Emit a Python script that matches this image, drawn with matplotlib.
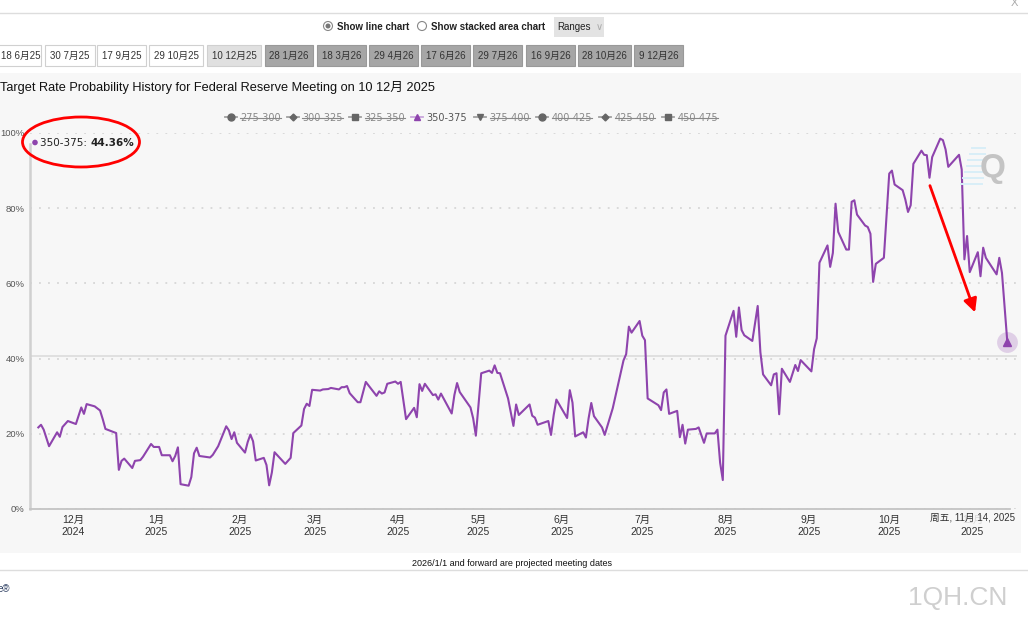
import matplotlib
matplotlib.use("Agg")
import matplotlib.pyplot as plt
import matplotlib.dates as mdates
from matplotlib.patches import Rectangle, Ellipse, FancyArrowPatch, Circle
import pandas as pd

plt.rcParams['font.family'] = ['Liberation Sans', 'Noto Sans CJK SC', 'DejaVu Sans']

# probability of the 350-375 bp range
dates = [
    "2024-11-18", "2024-11-19", "2024-11-20", "2024-11-22", "2024-11-25", "2024-11-26", "2024-11-27", "2024-11-29",
    "2024-12-02", "2024-12-04", "2024-12-05", "2024-12-06", "2024-12-09", "2024-12-11", "2024-12-12", "2024-12-13",
    "2024-12-17", "2024-12-18", "2024-12-19", "2024-12-20", "2024-12-23", "2024-12-24", "2024-12-26", "2024-12-27",
    "2024-12-30", "2024-12-31",
    "2025-01-02", "2025-01-03", "2025-01-06", "2025-01-07", "2025-01-08", "2025-01-09", "2025-01-10", "2025-01-13",
    "2025-01-14", "2025-01-15", "2025-01-16", "2025-01-17", "2025-01-21", "2025-01-22", "2025-01-24", "2025-01-27",
    "2025-01-28", "2025-01-29", "2025-01-30", "2025-01-31",
    "2025-02-03", "2025-02-04", "2025-02-05", "2025-02-06", "2025-02-07", "2025-02-10", "2025-02-11", "2025-02-12",
    "2025-02-13", "2025-02-14", "2025-02-18", "2025-02-19", "2025-02-20", "2025-02-21", "2025-02-24", "2025-02-25",
    "2025-02-26", "2025-02-27", "2025-02-28",
    "2025-03-03", "2025-03-04", "2025-03-06", "2025-03-07", "2025-03-10", "2025-03-11", "2025-03-12", "2025-03-13",
    "2025-03-14", "2025-03-17", "2025-03-18", "2025-03-19", "2025-03-20", "2025-03-24", "2025-03-25", "2025-03-26",
    "2025-03-27", "2025-03-28", "2025-03-31",
    "2025-04-01", "2025-04-02", "2025-04-04", "2025-04-07", "2025-04-08", "2025-04-09", "2025-04-10", "2025-04-11",
    "2025-04-14", "2025-04-15", "2025-04-16", "2025-04-17", "2025-04-21", "2025-04-22", "2025-04-23", "2025-04-24",
    "2025-04-28", "2025-04-29", "2025-04-30",
    "2025-05-02", "2025-05-05", "2025-05-06", "2025-05-07", "2025-05-08", "2025-05-09", "2025-05-12", "2025-05-14",
    "2025-05-15", "2025-05-16", "2025-05-20", "2025-05-21", "2025-05-22", "2025-05-23", "2025-05-27", "2025-05-28",
    "2025-05-29", "2025-05-30",
    "2025-06-03", "2025-06-04", "2025-06-05", "2025-06-06", "2025-06-09", "2025-06-10", "2025-06-11", "2025-06-12",
    "2025-06-13", "2025-06-16", "2025-06-17", "2025-06-20", "2025-06-24", "2025-06-25", "2025-06-26", "2025-06-27",
    "2025-06-30",
    "2025-07-01", "2025-07-02", "2025-07-03", "2025-07-07", "2025-07-08", "2025-07-09", "2025-07-10", "2025-07-11",
    "2025-07-14", "2025-07-15", "2025-07-16", "2025-07-17", "2025-07-18", "2025-07-21", "2025-07-22", "2025-07-24",
    "2025-07-25", "2025-07-28", "2025-07-29", "2025-07-30", "2025-07-31",
    "2025-08-01", "2025-08-04", "2025-08-05", "2025-08-06", "2025-08-07", "2025-08-08", "2025-08-11", "2025-08-13",
    "2025-08-14", "2025-08-15", "2025-08-18", "2025-08-19", "2025-08-20", "2025-08-21", "2025-08-22", "2025-08-25",
    "2025-08-27", "2025-08-28", "2025-08-29",
    "2025-09-02", "2025-09-03", "2025-09-04", "2025-09-05", "2025-09-08", "2025-09-09", "2025-09-10", "2025-09-11",
    "2025-09-12", "2025-09-15", "2025-09-16", "2025-09-17", "2025-09-18", "2025-09-19", "2025-09-22", "2025-09-23",
    "2025-09-24", "2025-09-25", "2025-09-26", "2025-09-29",
    "2025-10-01", "2025-10-02", "2025-10-03", "2025-10-06", "2025-10-07", "2025-10-08", "2025-10-09", "2025-10-10",
    "2025-10-13", "2025-10-14", "2025-10-15", "2025-10-16", "2025-10-17", "2025-10-20", "2025-10-21", "2025-10-22",
    "2025-10-23", "2025-10-27", "2025-10-28", "2025-10-29", "2025-10-30", "2025-10-31",
    "2025-11-03", "2025-11-04", "2025-11-05", "2025-11-06", "2025-11-10", "2025-11-11", "2025-11-12", "2025-11-14",
]
probs = [
    21.7, 22.4, 21.1, 16.7, 20.4, 19.2, 21.8, 23.4,
    22.6, 27.0, 25.3, 27.9, 27.3, 26.2, 23.9, 21.3,
    20.2, 10.4, 12.8, 13.4, 10.9, 12.8, 13.0, 13.9,
    17.3, 16.5,
    16.5, 14.3, 14.3, 12.7, 14.1, 16.4, 6.6, 6.2,
    8.5, 14.8, 16.3, 14.1, 13.7, 14.4, 16.7, 22.0,
    20.9, 18.6, 20.4, 17.6,
    15.0, 17.8, 19.8, 18.0, 12.9, 13.6, 11.7, 6.3,
    9.7, 15.1, 12.0, 12.8, 13.6, 20.2, 22.2, 26.6,
    28.0, 27.4, 31.7,
    31.5, 31.8, 31.9, 32.2, 31.8, 32.4, 32.4, 32.7,
    30.8, 28.4, 28.4, 31.1, 33.8, 30.1, 31.3, 30.7,
    31.0, 33.3, 33.9,
    33.3, 33.8, 23.9, 26.9, 24.4, 33.2, 31.4, 33.3,
    30.3, 30.5, 29.1, 30.7, 25.4, 30.3, 33.5, 31.1,
    27.0, 24.1, 19.5,
    36.1, 36.8, 36.2, 38.2, 36.2, 36.1, 29.4, 22.1,
    27.8, 25.0, 27.8, 24.8, 24.3, 22.4, 23.4, 19.7,
    25.0, 29.1,
    24.2, 31.6, 28.3, 19.3, 20.4, 19.0, 24.1, 28.2,
    24.7, 21.7, 19.7, 26.8, 39.5, 41.2, 48.5, 46.9,
    50.0,
    46.1, 44.9, 29.4, 27.6, 26.3, 31.0, 31.8, 25.3,
    26.1, 19.1, 22.4, 17.4, 21.1, 21.3, 21.7, 17.6,
    20.1, 20.1, 21.1, 12.3, 7.7,
    46.1, 52.7, 45.8, 53.6, 47.6, 46.2, 44.7, 54.0,
    41.7, 35.8, 32.9, 35.8, 36.1, 25.2, 37.3, 33.8,
    38.3, 36.7, 39.6,
    36.6, 42.5, 45.4, 65.5, 70.1, 64.4, 68.1, 81.2,
    73.7, 69.0, 69.0, 81.7, 82.1, 78.3, 75.4, 75.0,
    73.2, 60.4, 65.2, 66.8,
    89.2, 90.0, 86.3, 84.8, 82.3, 79.0, 80.8, 91.8,
    95.3, 94.2, 94.1, 88.1, 93.6, 98.5, 98.1, 95.6,
    91.0, 94.2, 90.3, 66.4, 72.6, 63.0,
    68.3, 61.9, 69.5, 66.8, 62.4, 66.8, 62.8, 44.36,
]

month_ticks = ["2024-12-01", "2025-01-01", "2025-02-01", "2025-03-01", "2025-04-01", "2025-05-01",
               "2025-06-01", "2025-07-01", "2025-08-01", "2025-09-01", "2025-10-01", "2025-11-01"]
month_labels = ["12月\n2024", "1月\n2025", "2月\n2025", "3月\n2025", "4月\n2025", "5月\n2025",
                "6月\n2025", "7月\n2025", "8月\n2025", "9月\n2025", "10月\n2025", "11月\n2025"]
y_ticks = [0, 20, 40, 60, 80, 100]
legend_labels = ["275-300", "300-325", "325-350", "350-375", "375-400", "400-425", "425-450", "450-475"]
legend_markers = ["o", "D", "s", "^", "v", "o", "D", "s"]
tabs = ["18 6月25", "30 7月25", "17 9月25", "29 10月25", "10 12月25", "28 1月26", "18 3月26",
        "29 4月26", "17 6月26", "29 7月26", "16 9月26", "28 10月26", "9 12月26"]
tab_edges = [(-6, 41), (45, 95), (97, 146), (149, 203), (207, 261), (265, 313), (317, 366),
             (369, 418), (421, 470), (473, 522), (526, 575), (578, 631), (634, 683)]

W, H = 1028, 632
purple = '#8e44ad'

fig = plt.figure(figsize=(W / 100, H / 100), dpi=100)
fig.patch.set_facecolor('white')

# background layer in pixel coordinates
bg = fig.add_axes([0, 0, 1, 1], zorder=0)
bg.set_xlim(0, W)
bg.set_ylim(H, 0)
bg.axis('off')

bg.plot([0, W], [13, 13], color='#dddddd', lw=1)
bg.text(1014, 3, 'X', fontsize=8, color='#aaaaaa', ha='center', va='center')

# radio buttons and ranges box
bg.add_patch(Circle((328, 26), 4.5, fc='white', ec='#888888', lw=0.8))
bg.add_patch(Circle((328, 26), 2.5, fc='#777777', ec='none'))
bg.text(337, 26.5, 'Show line chart', fontsize=7, weight='bold', color='#222222', va='center')
bg.add_patch(Circle((422, 26), 4.5, fc='white', ec='#888888', lw=0.8))
bg.text(431, 26.5, 'Show stacked area chart', fontsize=7, weight='bold', color='#222222', va='center')
bg.add_patch(Rectangle((554, 17), 50, 20, fc='#e3e3e3', ec='none'))
bg.text(557, 27, 'Ranges', fontsize=7, color='#222222', va='center')
bg.text(596, 27.5, '∨', fontsize=7, color='#aaaaaa', va='center', family='DejaVu Sans')

# meeting tabs
for i, (lab, (x0, x1)) in enumerate(zip(tabs, tab_edges)):
    if i < 4:
        fc, ec = 'white', '#d0d0d0'
    elif i == 4:
        fc, ec = '#e0e0e0', '#d0d0d0'
    else:
        fc, ec = '#a6a6a6', '#999999'
    bg.add_patch(Rectangle((x0, 45), x1 - x0, 21, fc=fc, ec=ec, lw=0.8))
    bg.text((x0 + x1) / 2 + (3 if i == 0 else 0), 55.5, lab, fontsize=7, color='#333333',
            ha='center', va='center')

# chart panel
bg.add_patch(Rectangle((0, 73), 1021, 480, fc='#f7f7f7', ec='none'))
bg.text(0, 88, 'Target Rate Probability History for Federal Reserve Meeting on 10 12月 2025',
        fontsize=9.2, color='#111111', va='center')

# legend row (all but one series hidden)
leg_x = [230.7, 292.7, 355, 417.3, 480, 542.3, 605, 668]
strike = []
for lab, mk, lx in zip(legend_labels, legend_markers, leg_x):
    active = lab == "350-375"
    lc = '#c9a6dc' if active else '#a0a0a0'
    mc = purple if active else '#666666'
    bg.plot([lx - 6, lx + 6], [117.3, 117.3], color=lc, lw=1.3)
    bg.plot([lx], [117.3], marker=mk, ms=5 if mk != 'D' else 3.5, color=mc, mec=mc)
    t = bg.text(lx + 9.5, 117.8, lab, fontsize=7, color='#555555' if active else '#888888',
                va='center', family=['DejaVu Sans'])
    if not active:
        strike.append(t)

# main chart
ax = fig.add_axes([30 / W, 1 - 509 / H, 987 / W, 376 / H], zorder=1)
ax.patch.set_alpha(0)
x = pd.to_datetime(dates)
ax.plot(x, probs, color=purple, lw=1.5, zorder=3)

base = mdates.date2num(pd.Timestamp("2024-12-01"))
ax.set_xlim(base - 16.1, base + 351.6)
ax.set_ylim(0, 100)

ax.set_xticks(pd.to_datetime(month_ticks))
ax.set_xticklabels(month_labels, fontsize=7.5, color='#333333', linespacing=1.35)
ax.set_yticks(y_ticks)
ax.set_yticklabels([f'{v}%' for v in y_ticks], fontsize=6.8, color='#555555')
ax.tick_params(axis='x', length=0, pad=4)
ax.tick_params(axis='y', length=0, pad=4)

ax.yaxis.grid(True, color='#d6d6d6', linestyle=(0, (1, 4)), lw=1.3)
ax.axhline(40.6, color='#dcdcdc', lw=1.2, zorder=1)
for s in ['top', 'right']:
    ax.spines[s].set_visible(False)
ax.spines['left'].set_color('#d0d0d0')
ax.spines['left'].set_linewidth(1.8)
ax.spines['left'].set_bounds(0, 97)
ax.spines['bottom'].set_color('#c4c4c4')
ax.spines['bottom'].set_linewidth(1.3)
ax.spines['bottom'].set_bounds(base - 16.1, base + 349)

# hovered point
ax.plot(x[-1], probs[-1], marker='o', ms=15, color=purple, alpha=0.22, mec='none', zorder=4)
ax.plot(x[-1], probs[-1], marker='^', ms=6, color=purple, zorder=5)

# overlay layer: tooltip, annotations, watermark
ov = fig.add_axes([0, 0, 1, 1], zorder=2)
ov.set_xlim(0, W)
ov.set_ylim(H, 0)
ov.axis('off')

ov.add_patch(Circle((35, 142.5), 2.8, fc=purple, ec='none'))
ov.text(39.5, 143, '350-375: ', fontsize=7.5, color='#222222', va='center', family=['DejaVu Sans'])
ov.text(90.5, 143, '44.36%', fontsize=7.5, weight='bold', color='#222222', va='center',
        family=['DejaVu Sans'])
ov.add_patch(Ellipse((81, 142), 117, 50, fc='none', ec='red', lw=2))

ov.add_patch(FancyArrowPatch((929, 183), (976, 315), arrowstyle='-|>', mutation_scale=20,
                             color='red', lw=2))

for k in range(7):
    yy = 148 + k * 6
    ov.plot([982 - k * 1.8 - 10, 985 - k * 0.5], [yy, yy], color='#d9eef8', lw=1.4)
ov.text(993, 169, 'Q', fontsize=24, weight='bold', color='#c4c4c4', ha='center', va='center')

ov.add_patch(Rectangle((931, 510), 86, 16, fc='#f7f7f7', ec='none', alpha=0.85))
ov.text(973, 518, '周五, 11月 14, 2025', fontsize=7, color='#333333', ha='center', va='center')

bg.text(512, 563.5, '2026/1/1 and forward are projected meeting dates', fontsize=6.5,
        color='#111111', ha='center', va='center')
bg.plot([0, W], [570, 570], color='#dddddd', lw=1)
bg.text(-2, 589, 'e®', fontsize=7, color='#334466', va='center')
bg.text(958, 598, '1QH.CN', fontsize=19, color='#cfcfcf', ha='center', va='center')

# strike-through for hidden legend entries
fig.canvas.draw()
inv = bg.transData.inverted()
for t in strike:
    bb = t.get_window_extent()
    (x0, _), (x1, _) = inv.transform([(bb.x0, bb.y0), (bb.x1, bb.y1)])
    bg.plot([x0, x1], [117.6, 117.6], color='#888888', lw=0.8)

fig.savefig('out.png', dpi=100)
